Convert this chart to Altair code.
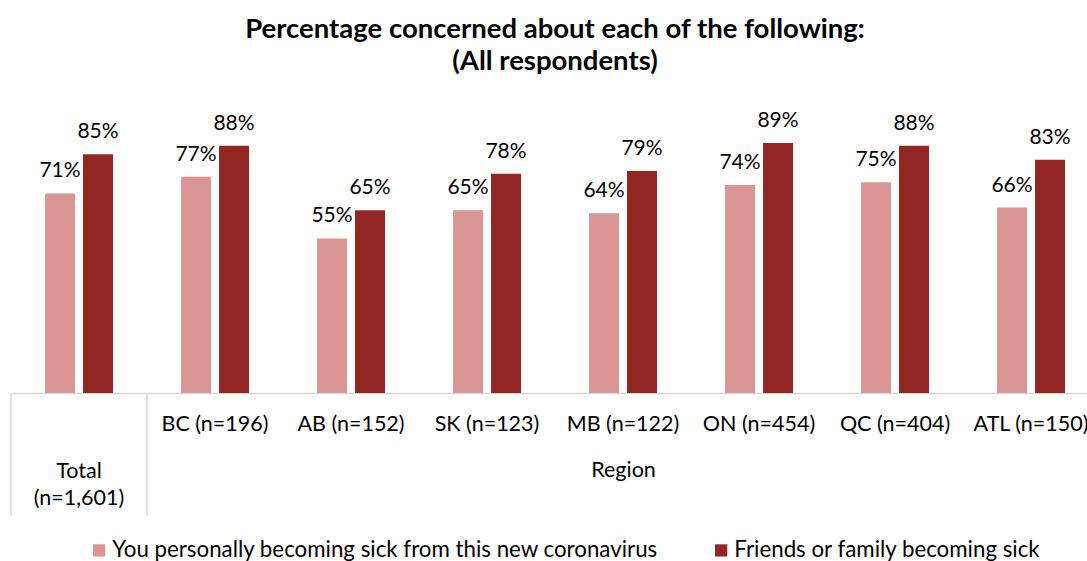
import altair as alt
import pandas as pd

categories = ["Total", "BC (n=196)", "AB (n=152)", "SK (n=123)", "MB (n=122)",
              "ON (n=454)", "QC (n=404)", "ATL (n=150)"]
series_names = ["You personally becoming sick from this new coronavirus",
                "Friends or family becoming sick"]
personal = [71, 77, 55, 65, 64, 74, 75, 66]
family = [85, 88, 65, 78, 79, 89, 88, 83]
colors = ["#DA9694", "#922623"]
separators = ["Total", "BC (n=196)"]

rows = []
for c, p, f in zip(categories, personal, family):
    rows.append({"category": c, "series": series_names[0], "value": p})
    rows.append({"category": c, "series": series_names[1], "value": f})
df = pd.DataFrame(rows)
df["label"] = df["value"].astype(str) + "%"
sep_df = pd.DataFrame({"category": separators})

FONT = "Lato"

x_axis = alt.Axis(
    labelAngle=0, labelFont=FONT, labelFontSize=21.5, labelColor="black",
    labelPadding={"condition": {"test": "datum.value === 'Total'", "value": 67}, "value": 20},
    labelExpr="datum.value === 'Total' ? ['Total', '(n=1,601)'] : datum.value",
    labelLineHeight=27, labelOverlap=False, labelLimit=0,
    domainColor="#d9d9d9", domainWidth=1.5, ticks=False,
    title="Region", titleFont=FONT, titleFontSize=21.5, titleFontWeight="normal",
    titleColor="black", titleX=612, titleY=77, titleBaseline="middle",
)

x_scale = alt.Scale(range=[0, 1088], paddingInner=0, paddingOuter=0)
x = alt.X("category:N", sort=categories, scale=x_scale, axis=x_axis)
xo = alt.XOffset("series:N", sort=series_names,
                 scale=alt.Scale(paddingInner=0.2105, paddingOuter=0.895))
y = alt.Y("value:Q", scale=alt.Scale(domain=[0, 100]), axis=None)

bars = alt.Chart(df).mark_bar().encode(
    x=x, xOffset=xo, y=y,
    color=alt.Color("series:N", sort=series_names,
                    scale=alt.Scale(domain=series_names, range=colors),
                    legend=alt.Legend(orient="none", legendX=77, legendY=427,
                                      direction="horizontal", title=None,
                                      symbolType="square", symbolSize=150,
                                      symbolStrokeWidth=0, labelFont=FONT,
                                      labelFontSize=22.3, labelColor="black",
                                      columnPadding=51, padding=0, labelOffset=2,
                                      labelLimit=0)),
)

text = alt.Chart(df).mark_text(baseline="bottom", dy=-12, font=FONT, fontSize=21,
                               color="black").encode(
    x=x, xOffset=xo, y=y, text="label:N"
)

seps = alt.Chart(sep_df).mark_rule(color="#d9d9d9", strokeWidth=1.5).encode(
    x=alt.X("category:N", sort=categories, scale=x_scale, bandPosition=0),
    y=alt.value(281), y2=alt.value(404),
)

chart = alt.layer(bars, text, seps).properties(
    width=1076, height=281,
    title=alt.TitleParams(
        text=["Percentage concerned about each of the following:", "(All respondents)"],
        font=FONT, fontSize=27.5, fontWeight="bold", color="black",
        anchor="middle", lineHeight=32, offset=34, dx=6,
    ),
    autosize=alt.AutoSizeParams(type="none"),
    padding={"left": 11, "top": 112, "right": 0, "bottom": 168},
).configure_view(stroke=None)

chart.save("out.html", embed_options={"renderer": "svg", "actions": False})
